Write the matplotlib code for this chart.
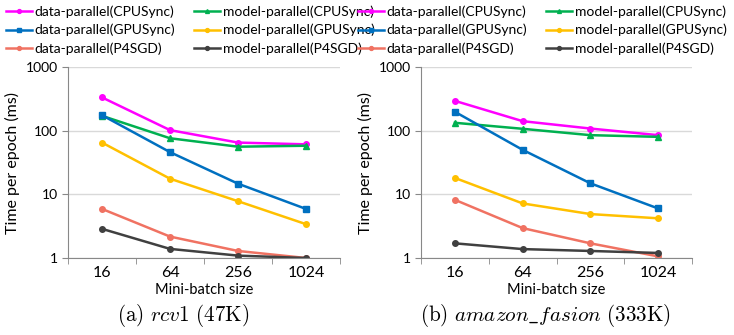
import numpy as np
import matplotlib.pyplot as plt

plt.rcParams['font.family'] = ['Lato', 'DejaVu Sans']
plt.rcParams['mathtext.fontset'] = 'cm'

# ===================== DATA =====================
BATCH_SIZES = ["16", "64", "256", "1024"]
SERIES_NAMES = [
    "data-parallel(CPUSync)", "model-parallel(CPUSync)",
    "data-parallel(GPUSync)", "model-parallel(GPUSync)",
    "data-parallel(P4SGD)", "model-parallel(P4SGD)",
]

# rcv1 (47K)
rcv1_dp_cpu = [333, 102, 65, 61]
rcv1_mp_cpu = [171, 76, 56, 58]
rcv1_dp_gpu = [175, 46, 14.7, 5.9]
rcv1_mp_gpu = [65, 17.6, 7.8, 3.4]
rcv1_dp_p4 = [5.9, 2.17, 1.29, 1.0]
rcv1_mp_p4 = [2.87, 1.39, 1.09, 1.0]

# amazon_fasion (333K)
amz_dp_cpu = [294, 141, 108, 85]
amz_mp_cpu = [133, 107, 85, 80]
amz_dp_gpu = [198, 50, 14.9, 6.0]
amz_mp_gpu = [18.1, 7.2, 4.9, 4.2]
amz_dp_p4 = [8.2, 2.95, 1.7, 1.06]
amz_mp_p4 = [1.7, 1.38, 1.29, 1.2]

COLORS = ["#FF00FF", "#00B050", "#0070C0", "#FFC000", "#F07262", "#404040"]
MARKERS = ["o", "^", "s", "o", "o", "o"]
MSIZES = [4, 4, 4.5, 4, 4, 4]
# =================================================


def draw_panel(ax, series):
    x = np.arange(len(BATCH_SIZES))
    for vals, name, c, m, ms in zip(series, SERIES_NAMES, COLORS, MARKERS, MSIZES):
        ax.plot(x, vals, color=c, marker=m, markersize=ms, linewidth=1.8, label=name)
    ax.set_yscale("log")
    ax.set_ylim(1, 1000)
    ax.set_xlim(-0.5, len(BATCH_SIZES) - 0.5)
    ax.set_yticks([1, 10, 100, 1000])
    ax.set_yticklabels(["1", "10", "100", "1000"])
    ax.yaxis.set_minor_locator(plt.NullLocator())
    ax.set_xticks(x)
    ax.set_xticklabels(BATCH_SIZES)
    ax.set_xticks(np.arange(len(BATCH_SIZES) + 1) - 0.5, minor=True)
    ax.tick_params(axis="x", which="major", length=0, labelsize=11.5, pad=6)
    ax.tick_params(axis="x", which="minor", length=4, color="#888888", direction="out")
    ax.tick_params(axis="y", length=4, color="#888888", labelsize=10)
    ax.grid(axis="y", color="#D9D9D9", linewidth=1)
    ax.set_axisbelow(True)
    for s in ["top", "right"]:
        ax.spines[s].set_visible(False)
    for s in ["left", "bottom"]:
        ax.spines[s].set_color("#888888")
    ax.set_ylabel("Time per epoch (ms)", fontsize=11.5)
    ax.set_xlabel("Mini-batch size", fontsize=10.5, labelpad=2)


fig = plt.figure(figsize=(7.34, 3.35), dpi=100)
ax1 = fig.add_axes([68 / 734, 77 / 335, 272 / 734, 191 / 335])
ax2 = fig.add_axes([421 / 734, 77 / 335, 271 / 734, 191 / 335])

draw_panel(ax1, [rcv1_dp_cpu, rcv1_mp_cpu, rcv1_dp_gpu, rcv1_mp_gpu, rcv1_dp_p4, rcv1_mp_p4])
draw_panel(ax2, [amz_dp_cpu, amz_mp_cpu, amz_dp_gpu, amz_mp_gpu, amz_dp_p4, amz_mp_p4])

fig.text(183 / 734, 1 - 302 / 335, r"$\mathrm{(a)}\ rcv1\ \mathrm{(47K)}$",
         ha="center", va="top", fontsize=15.2)
fig.text(545 / 734, 1 - 302 / 335, r"$\mathrm{(b)}\ amazon\_fasion\ \mathrm{(333K)}$",
         ha="center", va="top", fontsize=15.2)

# legend fills column-wise, so put data-parallel entries first
order = [0, 2, 4, 1, 3, 5]
for ax, x0 in [(ax1, 0 / 734), (ax2, 352 / 734)]:
    h, l = ax.get_legend_handles_labels()
    ax.legend([h[i] for i in order], [l[i] for i in order],
              loc="upper left", bbox_to_anchor=(x0, 1.0), bbox_transform=fig.transFigure,
              ncol=2, frameon=False, fontsize=10, handlelength=1.9, handletextpad=0.15,
              columnspacing=1.4, labelspacing=0.42, borderaxespad=0.0,
              markerscale=0.7)

fig.savefig("out.png", dpi=100)
